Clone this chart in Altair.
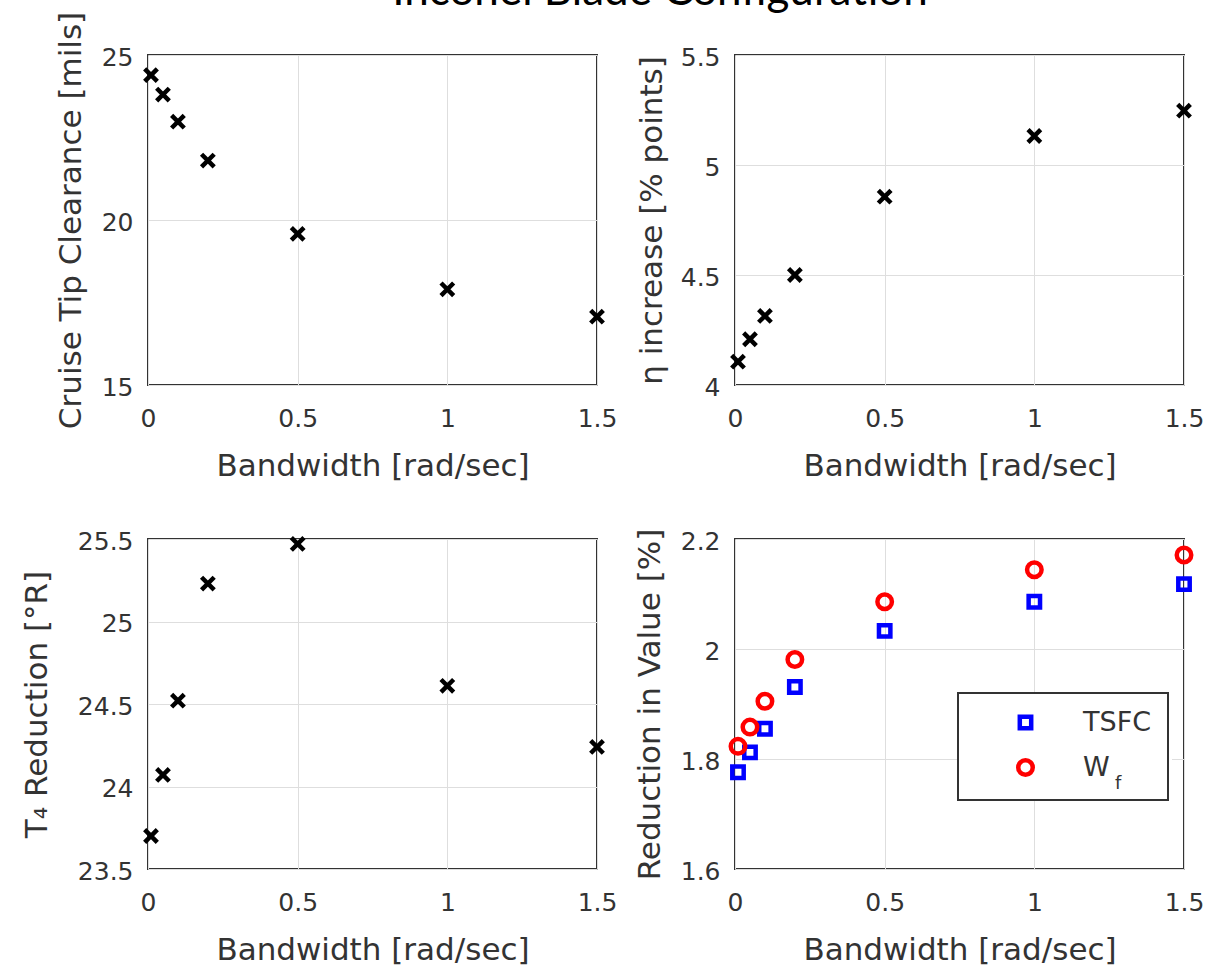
import altair as alt
import pandas as pd

# ---------------- data ----------------
bandwidth = [0.01, 0.05, 0.1, 0.2, 0.5, 1.0, 1.5]
tip_clearance = [24.39, 23.80, 22.98, 21.80, 19.58, 17.90, 17.07]
eta_increase = [4.106, 4.208, 4.314, 4.500, 4.856, 5.132, 5.247]
t4_reduction = [23.70, 24.07, 24.52, 25.23, 25.47, 24.61, 24.24]
tsfc_reduction = [1.776, 1.812, 1.855, 1.931, 2.033, 2.086, 2.118]
wf_reduction = [1.823, 1.858, 1.905, 1.981, 2.086, 2.144, 2.171]
series_names = ["TSFC", "Wf"]

x_ticks = [0, 0.5, 1, 1.5]
tip_ticks = [15, 20, 25]
eta_ticks = [4, 4.5, 5, 5.5]
t4_ticks = [23.5, 24, 24.5, 25, 25.5]
red_ticks = [1.6, 1.8, 2, 2.2]

fig_title = "Inconel Blade Configuration"
x_title = "Bandwidth [rad/sec]"

# ---------------- styling ----------------
W, H = 449, 330
FONT = "DejaVu Sans"
TXT = "#333333"
CROSS = "M-1,-1L1,1M-1,1L1,-1"

df_single = pd.DataFrame({
    "bw": bandwidth,
    "tip": tip_clearance,
    "eta": eta_increase,
    "t4": t4_reduction,
})
df_red = pd.DataFrame({
    "bw": bandwidth * 2,
    "value": tsfc_reduction + wf_reduction,
    "series": [series_names[0]] * len(bandwidth) + [series_names[1]] * len(bandwidth),
})


def x_enc():
    return alt.X(
        "bw:Q",
        scale=alt.Scale(domain=[0, 1.5], nice=False, zero=False),
        axis=alt.Axis(values=x_ticks, format="~g", title=x_title,
                      titleY=90, titleBaseline="alphabetic"),
    )


def y_enc(field, title, domain, ticks, tx):
    return alt.Y(
        field,
        scale=alt.Scale(domain=domain, nice=False, zero=False),
        axis=alt.Axis(values=ticks, format="~g", title=title, titleX=tx,
                      titleBaseline="alphabetic", titleAngle=270),
    )


def cross_panel(field, title, domain, ticks, tx):
    return alt.Chart(df_single).mark_point(
        shape=CROSS, filled=False, color="black", strokeWidth=4.5, size=160, opacity=1
    ).encode(
        x=x_enc(),
        y=y_enc(field + ":Q", title, domain, ticks, tx),
    ).properties(width=W, height=H)


tl_points = cross_panel("tip", "Cruise Tip Clearance [mils]", [15, 25], tip_ticks, -68)
title_mark = alt.Chart(pd.DataFrame({"t": [fig_title]})).mark_text(
    font="Lato", fontSize=44, align="center", baseline="alphabetic", color="black"
).encode(text="t:N", x=alt.value(512), y=alt.value(-50))
tl = alt.layer(tl_points, title_mark).properties(width=W, height=H)

tr = cross_panel("eta", "η increase [% points]", [4, 5.5], eta_ticks, -74)
bl = cross_panel("t4", "T₄ Reduction [°R]", [23.5, 25.5], t4_ticks, -102)

# legend is placed relative to the whole figure's top-left plot origin
leg = alt.Legend(
    title=None, orient="none", legendX=810, legendY=638,
    labelExpr="datum.label == 'Wf' ? 'W' : datum.label",
)
br_points = alt.Chart(df_red).mark_point(filled=False, strokeWidth=4.5, opacity=1).encode(
    x=x_enc(),
    y=y_enc("value:Q", "Reduction in Value [%]", [1.6, 2.2], red_ticks, -76),
    color=alt.Color("series:N", scale=alt.Scale(domain=series_names, range=["#0000ff", "#ff0000"]), legend=leg),
    shape=alt.Shape("series:N", scale=alt.Scale(domain=series_names, range=["square", "circle"]), legend=leg),
    size=alt.Size("series:N", scale=alt.Scale(domain=series_names, range=[130, 210]), legend=None),
)
legend_bg = alt.Chart(pd.DataFrame({"k": [0]})).mark_rect(fill="white").encode(
    x=alt.value(223), x2=alt.value(437), y=alt.value(154), y2=alt.value(261)
)
sub_f = alt.Chart(pd.DataFrame({"t": ["f"]})).mark_text(
    font=FONT, fontSize=18, align="left", baseline="alphabetic", color=TXT
).encode(text="t:N", x=alt.value(380), y=alt.value(250))
br = alt.layer(legend_bg, br_points, sub_f).properties(width=W, height=H)

chart = alt.concat(
    tl, tr, bl, br, columns=2,
    spacing={"row": 154, "column": 138},
).properties(
    bounds="flush",
    align="all",
    autosize=alt.AutoSizeParams(type="none"),
    padding={"left": 148, "top": 55, "right": 1207 - 148, "bottom": 971 - 55},
    background="white",
).configure_view(
    stroke="#333333", strokeWidth=2
).configure_axis(
    labelFont=FONT, labelFontSize=25, labelColor=TXT,
    titleFont=FONT, titleFontSize=31, titleFontWeight="normal", titleColor=TXT,
    grid=True, gridColor="#dedede", gridWidth=1,
    domain=False, ticks=False, tickSize=0, labelFlush=False,
).configure_axisX(
    labelPadding=21, labelAngle=0,
).configure_axisY(
    labelPadding=15, labelOffset=2,
).configure_legend(
    strokeColor="#333333", strokeWidth=2, padding=16,
    labelFont=FONT, labelFontSize=27, labelColor=TXT,
    symbolSize=170, symbolStrokeWidth=4.5, symbolOffset=38, labelOffset=44,
    rowPadding=13,
)

chart.save("out.html", embed_options={"renderer": "svg", "actions": False})
